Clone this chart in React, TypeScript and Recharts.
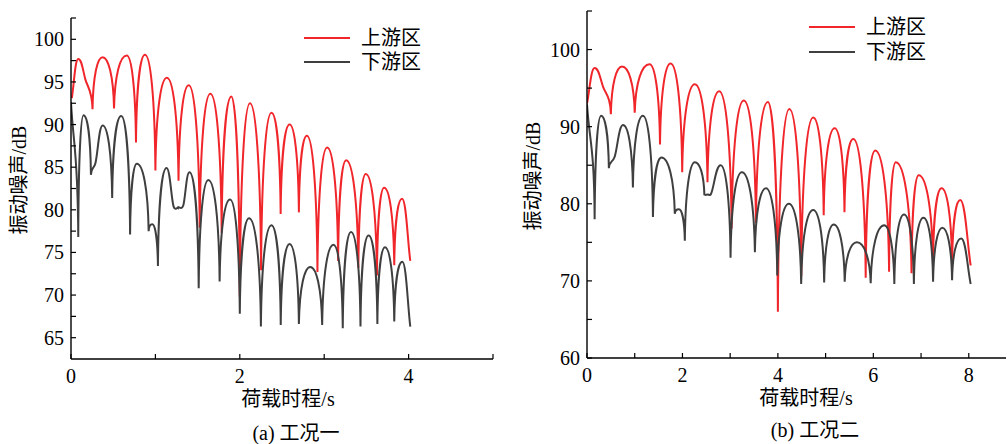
import React from "react";
import { LineChart, Line, XAxis, YAxis } from "recharts";

const upColor = "#f0262b";
const downColor = "#3f3f3f";
const serif = '"Liberation Serif", "Noto Sans CJK SC", serif';

// (a) 工况一
const caseATimeUp = [0.01, 0.086, 0.17, 0.255, 0.373, 0.51, 0.66, 0.77, 0.877, 1.0, 1.136, 1.274, 1.395, 1.525, 1.651, 1.785, 1.9, 2.0, 2.12, 2.252, 2.375, 2.484, 2.59, 2.7, 2.795, 2.92, 3.035, 3.165, 3.26, 3.405, 3.493, 3.625, 3.71, 3.83, 3.922, 4.02];
const caseADbUp = [93.1, 97.7, 95.3, 91.8, 97.9, 91.9, 98.1, 87.9, 98.2, 84.6, 95.5, 83.4, 94.6, 77.9, 93.6, 77.3, 93.3, 69.8, 92.5, 72.9, 91.4, 79.5, 90.0, 79.7, 88.7, 72.7, 87.3, 74.0, 85.8, 73.2, 84.2, 72.3, 82.6, 73.5, 81.3, 74.0];
const caseATimeDown = [0, 0.086, 0.148, 0.236, 0.29, 0.375, 0.488, 0.595, 0.7, 0.78, 0.92, 0.963, 1.03, 1.132, 1.215, 1.27, 1.33, 1.403, 1.513, 1.627, 1.761, 1.885, 2.0, 2.11, 2.25, 2.375, 2.485, 2.59, 2.7, 2.835, 2.976, 3.11, 3.22, 3.318, 3.43, 3.526, 3.63, 3.72, 3.83, 3.925, 4.02];
const caseADbDown = [92.6, 76.8, 91.1, 84.1, 85.5, 89.9, 81.4, 91.0, 77.1, 85.4, 77.5, 78.3, 73.4, 84.9, 80.4, 80.3, 80.5, 84.4, 70.8, 83.5, 71.6, 81.2, 67.8, 79.0, 66.3, 78.2, 66.5, 76.0, 66.6, 73.3, 66.5, 75.9, 66.1, 77.4, 66.3, 77.0, 66.6, 75.6, 66.9, 73.9, 66.3];

// (b) 工况二
const caseBTimeUp = [0, 0.16, 0.335, 0.5, 0.735, 1.0, 1.31, 1.53, 1.752, 1.995, 2.26, 2.525, 2.77, 3.03, 3.285, 3.54, 3.792, 4.0, 4.24, 4.49, 4.74, 4.96, 5.19, 5.395, 5.58, 5.84, 6.04, 6.33, 6.47, 6.8, 6.95, 7.25, 7.43, 7.65, 7.82, 8.04];
const caseBDbUp = [93.0, 97.6, 95.2, 91.6, 97.8, 91.8, 98.1, 87.7, 98.2, 84.1, 95.5, 82.8, 94.6, 76.8, 93.4, 77.5, 93.2, 66.0, 92.3, 70.6, 91.2, 78.5, 89.8, 78.9, 88.4, 70.4, 86.9, 71.2, 85.4, 71.0, 83.7, 72.4, 82.0, 72.2, 80.5, 72.0];
const caseBTimeDown = [0, 0.16, 0.295, 0.458, 0.58, 0.755, 0.962, 1.172, 1.382, 1.56, 1.84, 1.925, 2.05, 2.26, 2.46, 2.53, 2.6, 2.8, 3.008, 3.245, 3.518, 3.75, 3.987, 4.23, 4.488, 4.74, 4.97, 5.17, 5.4, 5.655, 5.945, 6.228, 6.44, 6.643, 6.85, 7.05, 7.252, 7.447, 7.65, 7.84, 8.04];
const caseBDbDown = [92.9, 78.0, 91.4, 84.6, 86.1, 90.2, 82.1, 91.4, 78.3, 86.0, 78.7, 79.3, 75.2, 85.4, 81.1, 81.2, 81.3, 85.0, 73.0, 84.1, 73.7, 82.0, 70.7, 80.0, 69.6, 79.2, 69.8, 77.3, 69.9, 75.0, 69.7, 77.2, 69.6, 78.6, 69.6, 78.2, 69.9, 76.9, 70.1, 75.5, 69.6];

const caseAXTicks = [0, 1, 2, 3, 4, 5];
const caseAYTicks = [65, 67.5, 70, 72.5, 75, 77.5, 80, 82.5, 85, 87.5, 90, 92.5, 95, 97.5, 100, 102.5];
const caseBXTicks = [0, 1, 2, 3, 4, 5, 6, 7, 8];
const caseBYTicks = [60, 65, 70, 75, 80, 85, 90, 95, 100, 105];

const toRows = (t: number[], db: number[]) => t.map((v, i) => ({ t: v, db: db[i] }));

// dB traces: rounded crests, sharp notches at the minima
function notchCurve(context: any) {
  let px: number[] = [];
  let py: number[] = [];
  const handle = (i: number, side: number, dx: number, dy: number) => {
    const n = px.length;
    const x = px[i];
    const y = py[i];
    if (i > 0 && i < n - 1) {
      const prev = py[i - 1];
      const next = py[i + 1];
      if (y < prev && y < next) return [x + side * 0.5 * dx, y];
      if (y > prev && y > next) return [x + side * 0.06 * dx, y + side * 0.65 * dy];
      const m = (next - prev) / (px[i + 1] - px[i - 1]);
      return [x + (side * dx) / 3, y + (side * m * dx) / 3];
    }
    return [x + (side * dx) / 3, y + (side * dy) / 3];
  };
  return {
    areaStart() {},
    areaEnd() {},
    lineStart() {
      px = [];
      py = [];
    },
    point(x: number, y: number) {
      px.push(+x);
      py.push(+y);
    },
    lineEnd() {
      const n = px.length;
      if (!n) return;
      context.moveTo(px[0], py[0]);
      for (let i = 0; i < n - 1; i++) {
        const dx = px[i + 1] - px[i];
        const dy = py[i + 1] - py[i];
        const a = handle(i, 1, dx, dy);
        const b = handle(i + 1, -1, dx, dy);
        context.bezierCurveTo(a[0], a[1], b[0], b[1], px[i + 1], py[i + 1]);
      }
    },
  };
}

const makeXTick = (step: number) => (props: any) => {
  const { x, y, payload } = props;
  const v = payload.value;
  return (
    <g>
      <line x1={x} x2={x} y1={y} y2={y - 5} stroke="#000" strokeWidth={1.2} />
      {v % step === 0 && (
        <text x={x} y={y + 24} textAnchor="middle" fontFamily={serif} fontSize={20} fill="#000">
          {v}
        </text>
      )}
    </g>
  );
};

const makeYTick = (step: number) => (props: any) => {
  const { x, y, payload } = props;
  const v = payload.value;
  return (
    <g>
      <line x1={x} x2={x + 5} y1={y} y2={y} stroke="#000" strokeWidth={1.2} />
      {v % step === 0 && (
        <text x={x - 7} y={y} dy="0.35em" textAnchor="end" fontFamily={serif} fontSize={20} fill="#000">
          {v}
        </text>
      )}
    </g>
  );
};

const Text = ({ x, y, children, rotate }: any) => (
  <div
    style={{
      position: "absolute",
      left: x,
      top: y,
      transform: `translate(-50%, -50%)${rotate ? " rotate(-90deg)" : ""}`,
      whiteSpace: "nowrap",
      fontFamily: serif,
      fontSize: 20,
      lineHeight: 1,
      color: "#000",
    }}
  >
    {children}
  </div>
);

const LegendRow = ({ x, y, color, label }: any) => (
  <div style={{ position: "absolute", left: x, top: y - 11, height: 22, display: "flex", alignItems: "center" }}>
    <svg width={46} height={4} style={{ display: "block" }}>
      <line x1={0} x2={46} y1={2} y2={2} stroke={color} strokeWidth={2} />
    </svg>
    <span style={{ marginLeft: 11, fontFamily: serif, fontSize: 20, lineHeight: 1, color: "#000" }}>{label}</span>
  </div>
);

const Panel = ({ left, width, margin, xDomain, xTicks, yDomain, yTicks, yStep, up, down }: any) => (
  <div style={{ position: "absolute", left, top: 0 }}>
    <LineChart width={width} height={444} margin={margin}>
      <XAxis
        type="number"
        dataKey="t"
        domain={xDomain}
        ticks={xTicks}
        allowDataOverflow
        height={30}
        tickSize={0}
        tickMargin={0}
        tickLine={false}
        axisLine={{ stroke: "#000", strokeWidth: 1.4 }}
        tick={makeXTick(2)}
        interval={0}
      />
      <YAxis
        type="number"
        dataKey="db"
        domain={yDomain}
        ticks={yTicks}
        allowDataOverflow
        width={60}
        tickSize={0}
        tickMargin={0}
        tickLine={false}
        axisLine={{ stroke: "#000", strokeWidth: 1.4 }}
        tick={makeYTick(yStep)}
        interval={0}
      />
      <Line data={up} dataKey="db" type={notchCurve as any} stroke={upColor} strokeWidth={2} dot={false} activeDot={false} isAnimationActive={false} />
      <Line data={down} dataKey="db" type={notchCurve as any} stroke={downColor} strokeWidth={2} dot={false} activeDot={false} isAnimationActive={false} />
    </LineChart>
  </div>
);

export default function App() {
  return (
    <div style={{ position: "absolute", left: 0, top: 0, width: 1007, height: 444, overflow: "hidden", background: "#fff" }}>
      <Panel
        left={0}
        width={500}
        margin={{ top: 18, right: 7, bottom: 55, left: 11 }}
        xDomain={[0, 5]}
        xTicks={caseAXTicks}
        yDomain={[62.5, 102.5]}
        yTicks={caseAYTicks}
        yStep={5}
        up={toRows(caseATimeUp, caseADbUp)}
        down={toRows(caseATimeDown, caseADbDown)}
      />
      <Panel
        left={500}
        width={507}
        margin={{ top: 11, right: 1, bottom: 56, left: 27 }}
        xDomain={[0, 8.78]}
        xTicks={caseBXTicks}
        yDomain={[60, 105]}
        yTicks={caseBYTicks}
        yStep={10}
        up={toRows(caseBTimeUp, caseBDbUp)}
        down={toRows(caseBTimeDown, caseBDbDown)}
      />

      <LegendRow x={304} y={38} color={upColor} label="上游区" />
      <LegendRow x={304} y={62} color={downColor} label="下游区" />
      <LegendRow x={809} y={27} color={upColor} label="上游区" />
      <LegendRow x={809} y={52} color={downColor} label="下游区" />

      <Text x={19} y={180} rotate>振动噪声/dB</Text>
      <Text x={533} y={176} rotate>振动噪声/dB</Text>
      <Text x={288} y={399}>荷载时程/s</Text>
      <Text x={806} y={398}>荷载时程/s</Text>
      <Text x={296} y={433}>(a) 工况一</Text>
      <Text x={815} y={430}>(b) 工况二</Text>
    </div>
  );
}
